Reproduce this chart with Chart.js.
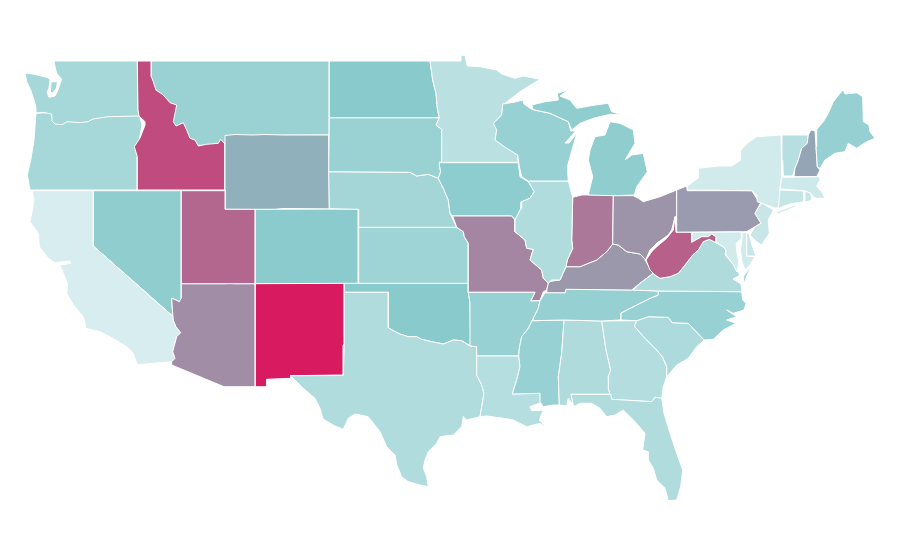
<!DOCTYPE html>
<html>
<head>
<meta charset="utf-8">
<title>US states choropleth</title>
<script src="https://cdn.jsdelivr.net/npm/chart.js@4/dist/chart.umd.min.js"></script>
<style>
  html, body { margin: 0; padding: 0; background: #fff; }
  canvas { display: block; }
</style>
</head>
<body>
<canvas id="map" width="900" height="560"></canvas>
<script>
// state names, estimated value (0-100) read from the fill colour, and outlines in map units
// order matters: later states paint over earlier ones along shared borders
const stateNames = [
  'Oregon', 'Washington', 'Montana', 'Idaho', 'Wyoming', 'Nevada', 'California', 'Arizona', 'Utah', 'Colorado',
  'New Mexico', 'Oklahoma', 'Texas', 'Kansas', 'Nebraska', 'South Dakota', 'North Dakota', 'Minnesota', 'Iowa',
  'Missouri', 'Arkansas', 'Louisiana', 'Mississippi', 'Alabama', 'Georgia', 'Florida', 'South Carolina',
  'North Carolina', 'Tennessee', 'Kentucky', 'Indiana', 'Illinois', 'Wisconsin', 'Michigan', 'Ohio',
  'Pennsylvania', 'Virginia', 'Maryland', 'West Virginia', 'Delaware', 'New Jersey', 'New York', 'Vermont',
  'New Hampshire', 'Maine', 'Massachusetts', 'Connecticut', 'Rhode Island'
];

const stateValues = [
  30, 30, 37, 86, 57, 43, 1, 67, 78, 46,
  100, 47, 24, 34, 31, 37, 47, 18, 44,
  69, 38, 21, 38, 25, 22, 24, 26,
  38, 39, 64, 73, 24, 38, 43, 65,
  63, 25, 5, 80, 10, 10, 5, 20,
  60, 39, 7, 12, 12
];

const stateOutlines = [
  // Oregon
  [[36,113.3, 60,112, 100,110, 139,114, 142,125, 138,146, 137.3,157, 137.3,190, 30,190, 27.3,175, 30.7,160, 34,140, 35,126.7]],
  // Washington, with the island in the sound
  [[137.3,61, 138,110, 139,116, 108,116.7, 93,119, 88,121.7, 80,122.7, 67,121.7, 62,124.7, 55,124, 52,120.7, 51.7,114, 43,112.3, 36,113, 36,108, 34,100, 30.7,90, 26.7,81.7, 25,73, 33.3,74, 46.7,77.3, 50,79, 49,88, 47,92, 49,97.3, 55,96, 58,90, 60.5,82, 61.7,79.3, 56.7,73.3, 55,66.7, 54,61],
   [51,82, 57.5,81.5, 56.5,88, 53,93, 50.5,92]],
  // Montana
  [[148,61, 329.3,61, 329.3,135, 228,135.5, 228,146, 190,145, 172,125, 165,105, 150,80]],
  // Idaho
  [[137.3,61, 151.3,61, 151.3,76.7, 153.3,81.7, 156,90, 163.3,95, 170,102.7, 176.7,105, 175,113.3, 173.3,121.7, 176,126, 183.3,122.7, 186.7,130, 190,138.3, 195,140, 198.3,146, 206.7,144.3, 218.3,143.3, 220.7,139.3, 225,144, 225,190, 137.3,190, 137.3,156.7, 134.3,146.7, 140,138, 145,125, 145,121.7, 139,116, 138,110]],
  // Wyoming
  [[225,135.5, 235,134.5, 253,135, 265,134.5, 283,135, 328.7,135, 329.3,209, 283,208.5, 275,209.5, 225,209.3]],
  // Nevada
  [[93.3,190.7, 181.3,190.7, 181.3,298, 179.3,301.7, 176,300, 171.7,298.3, 172.7,313.3, 174,317.3, 93.3,246]],
  // California
  [[32.3,190.7, 93.3,190.7, 93.3,246, 174,317.3, 173.3,320, 176,326.7, 180.7,332.7, 176.7,336.7, 174,346.7, 172.7,351.7, 175,358.3, 171.7,361.7, 137.7,364.7, 136,361.7, 133.3,353.3, 126.7,346.7, 118.3,341.7, 110,336.7, 100,331.7, 86,328.3, 83.3,316.7, 73.3,305, 66.7,293.3, 67.7,285, 64,275, 60,265, 70.7,263.3, 70,261, 55,262.7, 48.3,258.3, 39.3,246.7, 38.3,233.3, 30,221.7, 32.3,210, 34,200]],
  // Arizona
  [[181.3,283.7, 226,283.7, 229,282.8, 234,283.7, 255.3,283.7, 255.3,386.7, 224,386.7, 171.7,365, 171.7,361.7, 175,358.3, 172.7,351.7, 174,346.7, 176.7,336.7, 180.7,332.7, 176,326.7, 173.3,320, 172.7,313.3, 171.7,298.3, 176,300, 179.3,301.7, 181.3,298]],
  // Utah
  [[181.3,190.7, 225.3,190.7, 225.3,209.3, 255.3,209.3, 255.3,283.7, 181.3,283.7]],
  // Colorado
  [[255.3,209.3, 358.3,209, 358.3,283.5, 255.3,283.5]],
  // New Mexico
  [[255.3,283.7, 344.3,283.3, 344.3,343.3, 343.3,345, 343.3,375, 290.7,375.7, 290.7,378.3, 266.7,379.3, 266.7,386.7, 255.3,386.7]],
  // Oklahoma
  [[344.3,283.3, 468.3,283.3, 468.3,292.3, 470,303.3, 470.7,346, 461.7,340.7, 453.3,340, 443.3,344, 431.7,341.7, 421.7,339.3, 416.7,336.7, 408.3,336.7, 400,334, 393.3,330.7, 388.3,327.7, 388.3,292.3, 344.3,292.3]],
  // Texas
  [[344.3,292.3, 388.3,292.3, 388.3,327.7, 393.3,330.7, 400,334, 408.3,336.7, 416.7,336.7, 421.7,339.3, 431.7,341.7, 443.3,344, 453.3,340, 461.7,340.7, 470,346, 476.7,346.7, 476.7,375, 481.7,385, 484,393.3, 481.7,406.7, 480,416.7, 466.7,420, 463.3,416.7, 461.7,426.7, 453.3,435, 440,436.7, 436.7,443.3, 428.3,451.7, 425,460, 423.3,468.3, 426.7,476.7, 428.3,486.7, 420,485, 408.3,481.7, 401.7,476.7, 396.7,465, 395,455, 386.7,446.7, 380,431.7, 368.3,416.7, 355,414, 348.3,418.3, 343.3,429.3, 335,426, 323.3,419.3, 320,408.3, 315,398.3, 303.3,388.3, 295,380, 290.7,375.7, 343.3,375.5, 344.3,343]],
  // Kansas
  [[358.7,227.3, 456.7,227.3, 463.3,231.7, 464.3,236.7, 468.3,243.3, 468.3,283.3, 358.3,283.3]],
  // Nebraska
  [[328.7,171.7, 410,172.3, 416.7,176, 428.3,174.3, 438.3,178.3, 443.3,188.3, 448.3,200, 450,213.3, 456.7,227.3, 358.7,227.3, 358.7,209.3, 329.3,208.7]],
  // South Dakota
  [[329.3,117.7, 439.3,117.7, 436,125, 441.7,129.3, 441.7,161.7, 439.3,165, 440.7,171.7, 438.3,178.3, 428.3,174.3, 416.7,176, 410,172.3, 328.7,171.7]],
  // North Dakota
  [[329.3,61, 430,61, 432.7,80, 436,93.3, 437.3,108.3, 439.3,117.7, 329.3,117.7]],
  // Minnesota
  [[430,61, 461,61, 461,55, 465,55.7, 467.3,66, 480,66.7, 496.7,70, 501.7,74, 515,78.3, 523.3,76, 540,79.3, 520,91.7, 505,103.3, 502.7,105, 501.7,115, 495,121.7, 497.3,128.3, 495,139.3, 506.7,146.7, 517.3,155, 518.3,162.3, 439.3,162.3, 441.7,161.7, 441.7,129.3, 436,125, 439.3,117.7, 437.3,108.3, 436,93.3, 432.7,80]],
  // Iowa
  [[439.3,162.7, 518.3,162.7, 520,176.7, 528.3,181.7, 534.3,191.7, 530,198.3, 521.7,201.7, 521,208.3, 515,220, 511.7,216, 452.7,216, 450,213.3, 448.3,200, 443.3,188.3, 438.3,178.3, 440.7,171.7, 439.3,165]],
  // Missouri
  [[452.7,216, 511.7,216, 515,220, 515,231.7, 525,240, 526.7,248.3, 533.3,249.3, 530,260, 541.7,270, 543.3,278.3, 548.3,283.3, 546.7,290, 543.3,291.7, 540,300.7, 530.7,301, 535,292.3, 468.3,292.3, 468.3,243.3, 464.3,236.7, 463.3,231.7, 456.7,227.3]],
  // Arkansas
  [[468.3,292.3, 535,292.3, 530.7,301, 540,300.7, 538.3,308.3, 533.3,318.3, 528.3,328.3, 521.7,336.7, 519.3,348.3, 518.7,356, 476.7,356, 476.7,346.7, 470.7,346, 470,303.3]],
  // Louisiana
  [[476.7,356, 518.7,356, 520,366.7, 516.7,380, 512.3,394, 540,393.3, 540.7,402.7, 530,406.7, 531.7,410.7, 543.3,410, 539.3,420, 548.3,429.3, 540,423.3, 526.7,426.7, 513.3,420, 503.3,418.3, 486.7,416, 480,416.7, 481.7,406.7, 484,393.3, 481.7,385, 476.7,375]],
  // Mississippi
  [[533.3,320.7, 564,320, 561.7,353.3, 558.3,376.7, 559.3,405, 553.3,405, 543.3,406.7, 540,401.7, 540,393.3, 512.3,394, 516.7,380, 520,366.7, 518.7,356, 519.3,348.3, 521.7,336.7, 528.3,328.3, 533.3,318.3]],
  // Alabama
  [[564,320, 601.7,321, 606,350, 610.7,370, 608.3,376.7, 608.7,390, 610.7,394.3, 571,394.3, 573.3,405, 568.3,398.3, 566.7,406, 559.3,405, 558.3,376.7, 561.7,353.3]],
  // Georgia
  [[601.7,321, 636.7,320.7, 634.3,326, 645,338.3, 656.7,350, 662.7,357.3, 666.7,366.7, 666.7,376.7, 663.3,386.7, 661.7,398.3, 655,397.3, 651.7,401.7, 611.7,399.3, 608.7,390, 608.3,376.7, 610.7,370, 606,350]],
  // Florida
  [[571,394.3, 610.7,394.3, 611.7,399.3, 651.7,401.7, 655,397.3, 661.7,398.3, 664,413.3, 670,433.3, 676.7,453.3, 682.7,470, 680.7,486.7, 676.7,500, 668.3,500.7, 665,488.3, 656.7,480, 653.3,468.3, 648.3,460, 648.3,451.7, 642.7,450, 645,433.3, 635,421.7, 623.3,410, 615,415, 606.7,416.7, 600,408.3, 591.7,403.3, 580,403.3, 575,406, 573.3,405]],
  // South Carolina
  [[636.7,320.7, 648.3,316.7, 668.3,317.3, 672.3,322.7, 688.3,323.3, 704,340, 696.7,346.7, 688.3,358.3, 676.7,365, 668.3,375, 666.7,376.7, 666.7,366.7, 662.7,357.3, 656.7,350, 645,338.3, 634.3,326]],
  // North Carolina
  [[658.3,291, 741.7,291.7, 742.7,300, 746,303.3, 744,310, 733.3,313.3, 726.7,310, 736.7,316.7, 726.7,320, 736,323.3, 723.3,330, 713.3,339.3, 704,340, 688.3,323.3, 672.3,322.7, 668.3,317.3, 648.3,316.7, 636.7,320.7, 620.7,320, 620.7,313.3, 626.7,310, 640,303.3, 650,298.3, 658.3,295]],
  // Tennessee
  [[545,292.7, 565,292.7, 566,289.3, 633.3,290, 658.3,291, 658.3,295, 650,298.3, 640,303.3, 626.7,310, 620.7,313.3, 620.7,320, 601.7,321, 564,320, 533.3,320.7, 533.3,318.3, 538.3,308.3, 540,300.7]],
  // Kentucky
  [[546.7,292.7, 565,292.7, 566,289.3, 631.7,290, 640,283.3, 653.3,273.3, 645,260, 646.7,256.7, 640,254, 626.7,251.7, 618.3,245, 612.7,244, 606.7,251.7, 596.7,260, 588.3,263.3, 580,266.7, 566,266.7, 560,280, 548.3,281.7, 548.3,283.3, 546.7,290]],
  // Indiana
  [[572.7,197.3, 581.7,195, 613.3,194.3, 612.7,244, 606.7,251.7, 596.7,260, 588.3,263.3, 580,266.7, 566,266.7, 567.3,260, 572.7,248.3, 571.7,240]],
  // Illinois
  [[528.3,181, 568.3,181, 572.7,197.3, 571.7,240, 572.7,248.3, 567.3,260, 566,266.7, 560,280, 551.7,280, 548.3,283.3, 543.3,278.3, 541.7,270, 530,260, 533.3,249.3, 526.7,248.3, 525,240, 515,231.7, 515,220, 521,208.3, 521.7,201.7, 530,198.3, 534.3,191.7, 528.3,181.7]],
  // Wisconsin
  [[502.7,104, 515,102, 523,100, 524,104, 531.7,109.3, 550,113.3, 568.3,121.7, 570.7,131, 576,131, 565,143, 569,143, 577,133, 572,150, 567.3,166.7, 568.3,181, 528.3,181, 521.7,176.7, 519.3,166.7, 517.7,155, 506.7,148.3, 495,140, 496.7,130, 493.3,123.3, 501.7,115]],
  // Michigan, upper and lower peninsula
  [[533.3,110, 531.7,105, 545,101.7, 558.3,100, 557.3,93.3, 568.3,90, 560,96, 570,100, 576.7,108.3, 595,105, 608.3,103.3, 611.7,111.7, 623.3,115, 610,114.3, 593.3,118.3, 580,123.3, 571.7,130, 568.3,121.7, 550,113.3, 531.7,109.3],
   [610,121.7, 620,123.3, 633.3,130, 635,143.3, 625,160, 631.7,155, 643.3,153.3, 647.3,171.7, 636.7,186.7, 634.3,195, 613.3,195.7, 588.3,195, 592.7,176.7, 588.3,160, 590,150, 595,136.7, 605,135]],
  // Ohio
  [[613.3,195.7, 633.3,195.7, 638.3,198.3, 643.3,201.7, 660,196.7, 676.7,190, 676.7,216.7, 675,216.7, 671.7,230, 668.3,235, 656.7,243.3, 650,250, 645.7,260, 640,254, 626.7,251.7, 618.3,245, 612.7,244]],
  // Pennsylvania
  [[676.7,190, 686.7,186, 687.3,190.7, 751.7,190.7, 756.7,198.3, 760.7,202.7, 755,213.3, 761,223.3, 755,226.7, 746.7,231.7, 676.7,232.3]],
  // Virginia, with the tip of the eastern shore
  [[633.3,290, 640,283.3, 653.3,273.3, 655,275, 660,278.3, 670,276.7, 678.3,273.3, 685,265, 692.7,255, 698.3,250, 703.3,241.7, 709.3,239.3, 716,242.7, 723.3,246.7, 726,250, 725,255, 733,264, 740,275, 733,279, 741,284, 742,291.7, 658.3,291],
   [751,266, 745,281, 743.5,287, 743.5,276]],
  // Maryland, western part and eastern shore
  [[691.7,232.3, 741,232, 741.7,238.3, 736,243.3, 737,253.3, 739,262, 737,272, 733,264, 726,255, 726,250, 723.3,246.7, 716,242.7, 716.7,237.3, 711.7,234, 708.3,236.7, 701.7,236.7, 691.7,242.3],
   [742,233, 746.7,232, 746.7,256, 755,256.7, 750,265, 745,270, 742,262, 740.5,250, 742,240]],
  // West Virginia
  [[675,216.7, 676,232.3, 691.7,232.3, 691.7,242.3, 701.7,236.7, 708.3,236.7, 711.7,234, 716.7,237.3, 716,242.7, 709.3,239.3, 703.3,241.7, 698.3,250, 692.7,255, 685,265, 678.3,273.3, 670,276.7, 660,278.3, 655,275, 650,270, 646,260, 651.7,251.7, 656.7,246.7, 666.7,238.3, 673.3,230]],
  // Delaware
  [[746.7,231.7, 749,234, 752,245, 756,256, 746.7,256]],
  // New Jersey
  [[761.7,202.7, 773.3,210, 768.3,220, 769.3,233.3, 761.7,245, 756.7,241.7, 750,235, 755,226.7, 761,223.3, 755,213.3]],
  // New York, with Long Island
  [[687.3,190, 687.3,186, 698.3,178.3, 698.3,168.3, 718.3,166, 731.7,166, 740.7,160, 740.7,150, 747.3,143.3, 756.7,136.7, 781,135, 781.7,160, 781.7,176.7, 780,188.3, 779.3,206.7, 776,208.3, 761.7,203.3, 757.3,201.7, 756.7,195, 751.7,190.7],
   [776,212, 798,204, 795,207, 778,214]],
  // Vermont
  [[782,135, 808.3,135, 807.3,143.3, 801.7,148.3, 798.3,160, 795,168.3, 792.7,176, 783.3,176, 782.7,160]],
  // New Hampshire
  [[810.7,130, 815,130.7, 816,146.7, 817.3,166.7, 820,170, 816.7,176.7, 794,176.7, 795,168.3, 798.3,160, 801.7,148.3, 807.3,143.3, 808.3,135]],
  // Maine
  [[816.7,129.3, 823.3,121.7, 828.3,113.3, 833.3,101.7, 840,93.3, 843.3,90, 845,94, 856.7,92.7, 862.7,96.7, 863.3,121.7, 869,125, 870,131.7, 875,138.3, 866.7,141.7, 856.7,148.3, 848.3,143.3, 845,151.7, 835,153.3, 825,160, 820,168.3, 817.3,166.7, 816,146.7]],
  // Massachusetts
  [[781.7,177.3, 819.3,176.7, 820,180, 816.7,186, 822.7,193.3, 824,196.7, 830,195.7, 823.3,198.3, 815.7,198.3, 811.7,195, 810.7,193.3, 804,190.7, 780,189]],
  // Connecticut
  [[780,190, 804,191, 804,201.7, 790,204, 778.3,208.3]],
  // Rhode Island
  [[805,191, 810.7,193.3, 811.7,200, 805,202.3]]
];

// colour ramp: light aqua, teal at the middle, crimson at the top
const rampLow = [217, 238, 240];
const rampMid = [132, 200, 202];
const rampHigh = [216, 27, 96];

function valueToColor(value) {
  const from = value < 50 ? rampLow : rampMid;
  const to = value < 50 ? rampMid : rampHigh;
  const t = value < 50 ? value / 50 : (value - 50) / 50;
  const rgb = from.map((c, i) => Math.round(c + (to[i] - c) * t));
  return `rgb(${rgb[0]}, ${rgb[1]}, ${rgb[2]})`;
}

// flat x,y list to closed list of chart points
function ringToPoints(ring) {
  const points = [];
  for (let i = 0; i < ring.length; i += 2) {
    points.push({ x: ring[i], y: ring[i + 1] });
  }
  points.push({ x: ring[0], y: ring[1] });
  return points;
}

const datasets = [];
stateNames.forEach((name, index) => {
  stateOutlines[index].forEach(ring => {
    datasets.push({
      label: name,
      data: ringToPoints(ring),
      showLine: true,
      fill: 'shape',
      tension: 0,
      pointRadius: 0,
      pointHoverRadius: 0,
      borderWidth: 1,
      borderColor: '#ffffff',
      borderJoinStyle: 'round',
      backgroundColor: valueToColor(stateValues[index])
    });
  });
});

// Chart.js paints the first dataset last, so flip it to keep the order above
datasets.reverse();

new Chart(document.getElementById('map').getContext('2d'), {
  type: 'scatter',
  data: { datasets: datasets },
  options: {
    responsive: false,
    animation: false,
    layout: { padding: 0 },
    plugins: { legend: { display: false }, tooltip: { enabled: false }, title: { display: false } },
    scales: {
      x: { type: 'linear', min: 0, max: 900, display: false },
      y: { type: 'linear', min: 0, max: 560, reverse: true, display: false }
    }
  }
});
</script>
</body>
</html>
